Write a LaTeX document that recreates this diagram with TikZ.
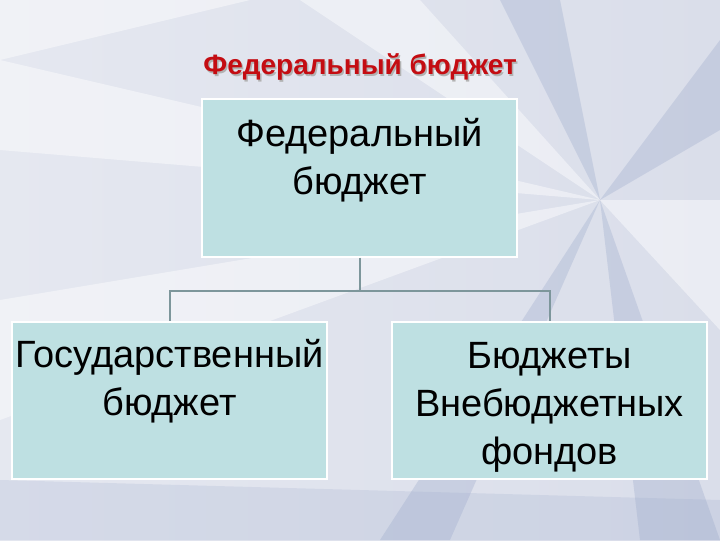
\documentclass[tikz,border=0pt]{standalone}
\usepackage{fontspec}
\setmainfont{Liberation Sans}
\usetikzlibrary{calc}
\begin{document}
\begin{tikzpicture}[x=0.75pt,y=-0.75pt,
  box/.style={draw=white,line width=1.5pt,fill=boxfill,minimum width=236pt,minimum height=118pt,inner sep=0pt},
  boxtext/.style={anchor=north,align=center,inner sep=0pt,font=\fontsize{28.5}{36}\selectfont,text=black},
  conn/.style={draw=connc,line width=1.5pt},
  fold/.style={fill=white,opacity=0.45},
  shade/.style={fill=foldblue,opacity=0.3}]
\definecolor{bgbase}{RGB}{218,222,234}
\definecolor{foldblue}{RGB}{150,165,200}
\definecolor{boxfill}{RGB}{190,224,226}
\definecolor{connc}{RGB}{125,150,155}
\definecolor{titlered}{RGB}{196,12,18}
% background
\path[use as bounding box,left color=bgbase!70!white,right color=bgbase] (0,0) rectangle (720,540);
\fill[fold] (0,60) -- (600,200) -- (0,150) -- cycle;
\fill[fold] (0,300) -- (600,200) -- (0,420) -- cycle;
\fill[shade] (600,200) -- (720,40) -- (720,130) -- cycle;
\fill[shade] (600,200) -- (500,0) -- (560,0) -- cycle;
\fill[shade] (600,200) -- (720,540) -- (640,540) -- cycle;
\fill[shade] (600,200) -- (380,540) -- (450,540) -- cycle;
\fill[fold] (600,200) -- (720,200) -- (720,330) -- cycle;
\fill[fold] (600,200) -- (300,0) -- (420,0) -- cycle;
\fill[shade,opacity=0.2] (0,480) -- (720,500) -- (720,540) -- (0,540) -- cycle;
\fill[fold] (0,0) -- (250,0) -- (0,60) -- cycle;
% title
\node[font=\bfseries\fontsize{21}{24}\selectfont,text=gray!60] at (361.5,68.5) {Федеральный бюджет};
\node (title) [font=\bfseries\fontsize{21}{24}\selectfont,text=titlered] at (360,67) {Федеральный бюджет};
% boxes
\node[box] (fed) at (359.5,178) {};
\node[box] (gos) at (169.5,400.5) {};
\node[box] (vnb) at (549.5,400.5) {};
\node[boxtext] (fedt) at ([yshift=-15pt]fed.north) {Федеральный\\бюджет};
\node[boxtext] (gost) at ([yshift=-14pt]gos.north) {Государственный\\бюджет};
\node[boxtext] (vnbt) at ([yshift=-16pt]vnb.north) {Бюджеты\\Внебюджетных\\фондов};
% connectors
\coordinate (j) at ($(fed.south)+(0,33)$);
\draw[conn] (fed.south) -- (j);
\draw[conn] (j) -| (gos.north);
\draw[conn] (j) -| (vnb.north);
\end{tikzpicture}
\end{document}
